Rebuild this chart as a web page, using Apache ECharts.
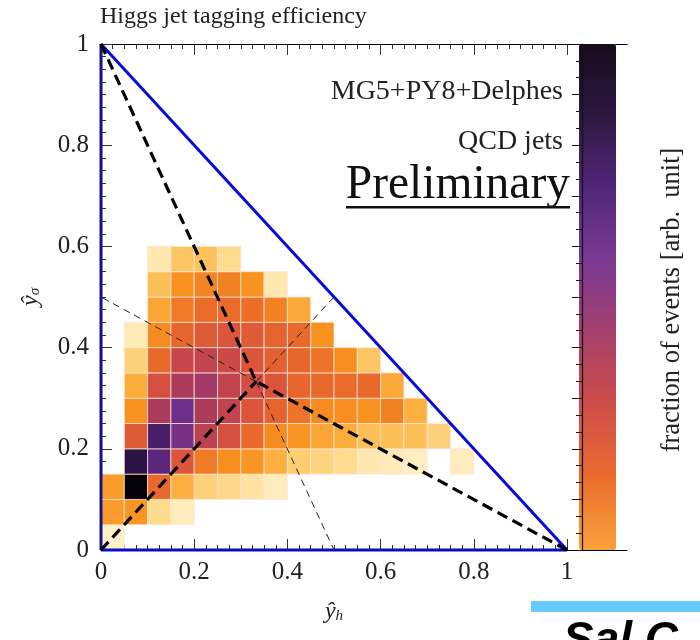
<!DOCTYPE html>
<html><head><meta charset="utf-8">
<script src="https://cdn.jsdelivr.net/npm/echarts@6/dist/echarts.min.js"></script>
<style>html,body{margin:0;padding:0;background:#fff}#c{width:700px;height:640px}</style>
</head><body><div id="c"></div>
<script>
// bin width of the 2D histogram (in ŷh and ŷσ)
const binWidth = 0.05;
// fraction of events per bin (arb. unit, 0 = empty); row index = ŷσ bin, entry index = ŷh bin
const row00 = [3];
const row01 = [30, 32, 12, 5];
const row02 = [30, 100, 45, 24, 15, 13, 9, 5];
const row03 = [0, 92, 82, 52, 40, 34, 32, 24, 16, 14, 12, 7, 6, 4, 0, 5];
const row04 = [0, 50, 86, 76, 62, 54, 45, 35, 32, 27, 25, 20, 20, 20, 15];
const row05 = [0, 33, 66, 78, 66, 60, 52, 47, 42, 35, 34, 33, 38, 24];
const row06 = [0, 25, 54, 66, 68, 60, 55, 52, 46, 45, 44, 45, 26];
const row07 = [0, 15, 45, 58, 60, 57, 52, 48, 46, 42, 34, 18];
const row08 = [0, 6, 35, 46, 50, 52, 50, 47, 45, 33];
const row09 = [0, 0, 27, 40, 44, 44, 43, 38, 26];
const row10 = [0, 0, 20, 33, 37, 38, 33, 7];
const row11 = [0, 0, 7, 18, 19, 12];
const rows = [row00, row01, row02, row03, row04, row05, row06, row07, row08, row09, row10, row11];

// triangle and medians
const edgeHypotenuse = [[0, 1], [1, 0]];
const edgeBottom = [[0, 0], [1, 0]];
const edgeLeft = [[0, 0], [0, 1]];
const centroid = [0.333, 0.333];
const thickSegments = [[[0, 1], centroid], [[0, 0], centroid], [[1, 0], centroid]];
const thinSegments = [[centroid, [0.5, 0]], [centroid, [0, 0.5]], [centroid, [0.5, 0.5]]];

const xTicks = { min: 0, max: 1, interval: 0.2 };
const serif = '"Liberation Serif", "DejaVu Serif", serif';

const cells = [];
rows.forEach((r, j) => r.forEach((v, i) => { if (v > 0) cells.push([i * binWidth, j * binWidth, v]); }));

const chart = echarts.init(document.getElementById('c'));

function lineSeries(data, color, width, type) {
  return {
    type: 'line', data: data, xAxisIndex: 0, yAxisIndex: 0, symbol: 'none', clip: false, z: 5,
    lineStyle: { color: color, width: width, type: type }, silent: true, animation: false
  };
}

const series = [
  {
    type: 'custom', xAxisIndex: 0, yAxisIndex: 0, data: cells, z: 2, animation: false,
    encode: { x: 0, y: 1 },
    renderItem: function (params, api) {
      const x = api.value(0), y = api.value(1);
      const p0 = api.coord([x, y + binWidth]);
      const p1 = api.coord([x + binWidth, y]);
      return {
        type: 'rect',
        shape: { x: p0[0], y: p0[1], width: p1[0] - p0[0], height: p1[1] - p0[1] },
        style: { fill: api.visual('color'), stroke: 'rgba(255,230,215,0.75)', lineWidth: 1 }
      };
    }
  },
  { type: 'scatter', data: [], xAxisIndex: 2, yAxisIndex: 1 },
  lineSeries(edgeHypotenuse, '#0a0ad8', 3, 'solid'),
  lineSeries(edgeBottom, '#0a0ac8', 3, 'solid'),
  lineSeries(edgeLeft, '#14148a', 3, 'solid')
];
thickSegments.forEach(s => series.push(lineSeries(s, '#000', 3.2, [11, 6])));
thinSegments.forEach(s => series.push(lineSeries(s, '#222', 1, [7, 5])));

const tickCommon = {
  axisLine: { show: true, lineStyle: { color: '#000', width: 1.2 } },
  axisTick: { show: true, inside: true, length: 11, lineStyle: { color: '#333', width: 1 } },
  minorTick: { show: true, splitNumber: 8, length: 5, lineStyle: { color: '#333', width: 1 } },
  splitLine: { show: false }
};

chart.setOption({
  animation: false,
  backgroundColor: '#fff',
  grid: [
    { left: 101, top: 44, width: 466, height: 506 },
    { left: 567, top: 44, width: 60, height: 506 }
  ],
  xAxis: [
    Object.assign({
      type: 'value', gridIndex: 0, position: 'bottom', min: xTicks.min, max: xTicks.max, interval: xTicks.interval,
      axisLabel: { fontFamily: serif, fontSize: 25, color: '#222', margin: 10 },
      name: '{a|ŷ}{s|h}', nameLocation: 'middle', nameGap: 49,
      nameTextStyle: { rich: { a: { fontFamily: serif, fontStyle: 'italic', fontSize: 24, color: '#222' }, s: { fontFamily: serif, fontStyle: 'italic', fontSize: 15, color: '#222', padding: [10, 0, 0, 0] } } }
    }, tickCommon),
    Object.assign({
      type: 'value', gridIndex: 0, position: 'top', min: xTicks.min, max: xTicks.max, interval: xTicks.interval,
      axisLabel: { show: false }
    }, tickCommon),
    { type: 'value', gridIndex: 1, position: 'bottom', min: 0, max: 1, axisLine: { show: true, lineStyle: { color: '#000', width: 1.2 } }, axisTick: { show: false }, axisLabel: { show: false }, splitLine: { show: false } },
    { type: 'value', gridIndex: 1, position: 'top', min: 0, max: 1, axisLine: { show: true, lineStyle: { color: '#000', width: 1.2 } }, axisTick: { show: false }, axisLabel: { show: false }, splitLine: { show: false } }
  ],
  yAxis: [
    Object.assign({
      type: 'value', gridIndex: 0, position: 'left', min: xTicks.min, max: xTicks.max, interval: xTicks.interval,
      axisLabel: { fontFamily: serif, fontSize: 25, color: '#222', margin: 12 },
      name: '{a|ŷ}{s|σ}', nameLocation: 'middle', nameGap: 58, nameRotate: 90,
      nameTextStyle: { rich: { a: { fontFamily: serif, fontStyle: 'italic', fontSize: 24, color: '#222' }, s: { fontFamily: serif, fontStyle: 'italic', fontSize: 15, color: '#222', padding: [10, 0, 0, 0] } } }
    }, tickCommon),
    {
      type: 'value', gridIndex: 1, position: 'right', offset: -15, min: 0, max: 1, interval: 0.1, z: 10,
      axisLine: { show: true, lineStyle: { color: '#111', width: 1.2 } },
      axisTick: { show: true, inside: true, length: 10, lineStyle: { color: '#111' } },
      minorTick: { show: true, splitNumber: 3, length: 6, lineStyle: { color: '#111' } },
      axisLabel: { show: false }, splitLine: { show: false }
    }
  ],
  visualMap: [
    {
      type: 'continuous', show: false, min: 0, max: 100, dimension: 2, seriesIndex: 0,
      inRange: { color: ['#fff6dc', '#fedf95', '#fcb646', '#f8911f', '#ea6a2a', '#d24b44', '#aa3a5e', '#6f2f8e', '#3a1a5a', '#050208'] }
    },
    {
      type: 'continuous', show: true, min: 0, max: 1, seriesIndex: 1, left: 579, top: 44, padding: 0,
      itemWidth: 37, itemHeight: 506, calculable: false, hoverLink: false, z: 1,
      textStyle: { color: 'transparent' }, text: ['', ''],
      inRange: { color: ['#f9a23a', '#ea6d2e', '#cf4d48', '#a63f6c', '#7a3a92', '#52277a', '#2c1840', '#160c1c'] }
    }
  ],
  graphic: [
    { type: 'text', left: 100, top: 5, style: { text: 'Higgs jet tagging efficiency', font: '24px ' + serif, fill: '#222' } },
    { type: 'text', right: 137, top: 78, style: { text: 'MG5+PY8+Delphes', font: '28px ' + serif, fill: '#222' } },
    { type: 'text', right: 137, top: 128, style: { text: 'QCD jets', font: '28px ' + serif, fill: '#222' } },
    { type: 'text', right: 130, top: 162, style: { text: 'Preliminary', font: '47.5px ' + serif, fill: '#111' } },
    { type: 'rect', left: 346, top: 206, shape: { width: 224, height: 2.5 }, style: { fill: '#111' } },
    { type: 'text', x: 672, y: 300, rotation: Math.PI / 2, style: { text: 'fraction of events [arb.  unit]', font: '26.5px ' + serif, fill: '#222', textAlign: 'center', textVerticalAlign: 'middle' } },
    { type: 'rect', left: 531, top: 601, shape: { width: 169, height: 11 }, style: { fill: '#66ccff' } },
    { type: 'text', left: 563, top: 618, style: { text: 'Sal C', font: 'italic bold 46px "Liberation Sans", sans-serif', fill: '#000' } }
  ],
  series: series
});
</script>
</body></html>
